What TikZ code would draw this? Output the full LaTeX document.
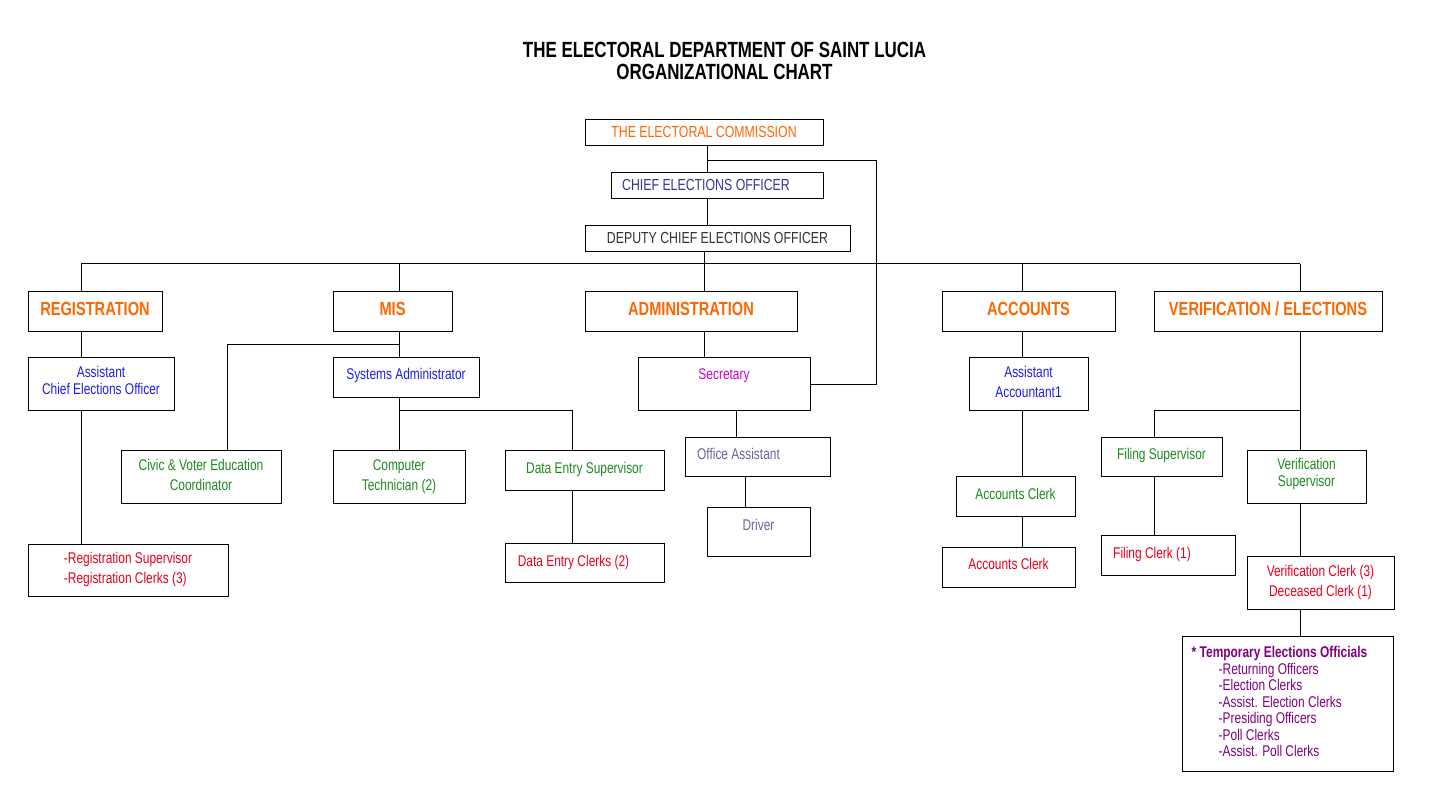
\documentclass[tikz,border=0pt]{standalone}
\usepackage{fontspec}
\setmainfont{Liberation Sans}[FakeStretch=0.77]
\usetikzlibrary{positioning}

\definecolor{orgorange}{HTML}{FF6600}
\definecolor{ceoblue}{HTML}{333399}
\definecolor{deputygray}{HTML}{333333}
\definecolor{posblue}{HTML}{1F1FE0}
\definecolor{posgreen}{HTML}{1E8A1E}
\definecolor{posred}{HTML}{E8001E}
\definecolor{secmagenta}{HTML}{CC00CC}
\definecolor{staffslate}{HTML}{666699}
\definecolor{temppurple}{HTML}{800080}

\newcommand\titlefont{\fontsize{22}{20.7}\selectfont\bfseries}
\newcommand\topfont{\fontsize{16}{20}\selectfont}
\newcommand\deptfont{\fontsize{19}{22}\selectfont\bfseries}
\newcommand\boxfont{\fontsize{15.5}{20}\selectfont}
\newcommand\tightfont{\fontsize{15.5}{17}\selectfont}
\newcommand\listfont{\fontsize{15.5}{16.5}\selectfont}

\begin{document}
\begin{tikzpicture}[x=1pt, y=-1pt,
	box/.style={draw=black, line width=1pt, inner sep=0pt, anchor=north, font=\boxfont},
	dept/.style={box, text height=24pt, text depth=16pt, font=\deptfont, text=orgorange},
	conn/.style={-, line width=1pt}]
	\fill[white] (0,0) rectangle (1434,791);
	\useasboundingbox (0,0) rectangle (1434,791);

	% title
	\node[font=\titlefont, inner sep=0pt, anchor=base] (title) at (724.5,58) {\begin{tabular}[t]{@{}c@{}}THE ELECTORAL DEPARTMENT OF SAINT LUCIA\\ORGANIZATIONAL CHART\end{tabular}};

	% top of the chart
	\node[box, font=\topfont, minimum width=238pt, text height=18pt, text depth=8pt, text=orgorange]  (comm) at (704,119)   {THE ELECTORAL COMMISSION};
	\node[box, font=\topfont, minimum width=212pt, text height=18pt, text depth=8pt, text=ceoblue]    (ceo)  at (717,172)   {CHIEF ELECTIONS OFFICER\hspace*{22pt}};
	\node[box, font=\topfont, minimum width=265pt, text height=18pt, text depth=8pt, text=deputygray] (dceo) at (717.5,225) {DEPUTY CHIEF ELECTIONS OFFICER};

	% departments
	\node[dept, minimum width=134pt] (reg) at (95,291)     {REGISTRATION};
	\node[dept, minimum width=119pt] (mis) at (392.5,291)  {MIS};
	\node[dept, minimum width=212pt] (adm) at (691,291)    {ADMINISTRATION};
	\node[dept, minimum width=173pt] (acc) at (1028.5,291) {ACCOUNTS};
	\node[dept, minimum width=228pt] (ver) at (1268,291)   {VERIFICATION / ELECTIONS};

	% posts
	\node[box, font=\tightfont, minimum width=146pt, text height=20pt, text depth=33pt, text=posblue] (ace) at (101,357) {\begin{tabular}[t]{@{}c@{}}Assistant\\Chief Elections Officer\end{tabular}};
	\node[box, minimum width=146pt, text height=22pt, text depth=18pt, text=posblue]      (sysadm)  at (406,357)    {Systems Administrator};
	\node[box, minimum width=172pt, text height=22pt, text depth=31pt, text=secmagenta]   (sec)     at (724,357)    {Secretary};
	\node[box, minimum width=119pt, text height=20pt, text depth=33pt, text=posblue]      (asstacc) at (1028.5,357) {\begin{tabular}[t]{@{}c@{}}Assistant\\Accountant1\end{tabular}};

	\node[box, minimum width=160pt, text height=20pt, text depth=33pt, text=posgreen]     (civic)    at (201,450)    {\begin{tabular}[t]{@{}c@{}}Civic \& Voter Education\\Coordinator\end{tabular}};
	\node[box, minimum width=132pt, text height=20pt, text depth=33pt, text=posgreen]     (comptech) at (399,450)    {\begin{tabular}[t]{@{}c@{}}Computer\\Technician (2)\end{tabular}};
	\node[box, minimum width=159pt, text height=23pt, text depth=17pt, text=posgreen]     (des)      at (584.5,450)  {Data Entry Supervisor};
	\node[box, minimum width=145pt, text height=22pt, text depth=17pt, text=staffslate]   (oa)       at (757.5,437)  {Office Assistant\hspace*{38pt}};
	\node[box, minimum width=119pt, text height=23pt, text depth=17pt, text=posgreen]     (acl1)     at (1015.5,476) {Accounts Clerk};
	\node[box, minimum width=121pt, text height=22pt, text depth=17pt, text=posgreen]     (fs)       at (1161.5,437) {Filing Supervisor};
	\node[box, font=\tightfont, minimum width=119pt, text height=19pt, text depth=34pt, text=posgreen] (vs) at (1306.5,450) {\begin{tabular}[t]{@{}c@{}}Verification\\Supervisor\end{tabular}};

	\node[box, minimum width=200pt, text height=19pt, text depth=33pt, text=posred]       (regsup) at (128,544)    {\begin{tabular}[t]{@{}l@{}}-Registration Supervisor\\-Registration Clerks (3)\end{tabular}};
	\node[box, minimum width=159pt, text height=23pt, text depth=16pt, text=posred]       (dec)    at (584.5,543)  {Data Entry Clerks (2)\hspace*{22pt}};
	\node[box, minimum width=103pt, text height=23pt, text depth=26pt, text=staffslate]   (drv)    at (758.5,507)  {Driver};
	\node[box, minimum width=133pt, text height=22pt, text depth=18pt, text=posred]       (acl2)   at (1008.5,547) {Accounts Clerk};
	\node[box, minimum width=134pt, text height=23pt, text depth=17pt, text=posred]       (fc)     at (1168,535)   {Filing Clerk (1)\hspace*{32pt}};
	\node[box, minimum width=147pt, text height=20pt, text depth=33pt, text=posred]       (vc)     at (1320.5,556) {\begin{tabular}[t]{@{}c@{}}Verification Clerk (3)\\Deceased Clerk (1)\end{tabular}};

	\node[box, font=\listfont, minimum width=211pt, text height=21pt, text depth=114pt, text=temppurple] (temp) at (1287.5,636) {\begin{tabular}[t]{@{}l@{}}\textbf{* Temporary Elections Officials}\hspace*{16pt}\\
		\hspace*{27pt}-Returning Officers\\
		\hspace*{27pt}-Election Clerks\\
		\hspace*{27pt}-Assist. Election Clerks\\
		\hspace*{27pt}-Presiding Officers\\
		\hspace*{27pt}-Poll Clerks\\
		\hspace*{27pt}-Assist. Poll Clerks\end{tabular}};

	% where the lines run
	\coordinate (top)    at (707,161);
	\coordinate (link)   at (876,161);
	\coordinate (bus)    at (704,264);
	\coordinate (regcol) at (81,264);
	\coordinate (miscol) at (399,264);
	\coordinate (acccol) at (1022,264);
	\coordinate (vercol) at (1300,264);
	\coordinate (civcol) at (227,344);
	\coordinate (descol) at (572,410);
	\coordinate (seccol) at (736,410);
	\coordinate (oacol)  at (745,476);
	\coordinate (fscol)  at (1154,410);

	\draw[conn] (top |- comm.south) -- (top |- ceo.north);
	\draw[conn] (top |- ceo.south) -- (top |- dceo.north);
	\draw[conn] (top) -- (link) |- (sec.east);
	\draw[conn] (bus |- dceo.south) -- (bus);
	\draw[conn] (regcol) -- (vercol);
	\foreach \col/\dep in {regcol/reg, miscol/mis, bus/adm, acccol/acc, vercol/ver}
		\draw[conn] (\col) -- (\col |- \dep.north);

	\draw[conn] (regcol |- reg.south) -- (regcol |- ace.north);
	\draw[conn] (regcol |- ace.south) -- (regcol |- regsup.north);

	\draw[conn] (miscol |- mis.south) -- (miscol |- sysadm.north);
	\draw[conn] (miscol |- civcol) -- (civcol) -- (civcol |- civic.north);
	\draw[conn] (miscol |- sysadm.south) -- (miscol |- comptech.north);
	\draw[conn] (miscol |- descol) -- (descol) -- (descol |- des.north);
	\draw[conn] (descol |- des.south) -- (descol |- dec.north);

	\draw[conn] (bus |- adm.south) -- (bus |- sec.north);
	\draw[conn] (seccol |- sec.south) -- (seccol |- oa.north);
	\draw[conn] (oacol |- oa.south) -- (oacol |- drv.north);

	\draw[conn] (acccol |- acc.south) -- (acccol |- asstacc.north);
	\draw[conn] (acccol |- asstacc.south) -- (acccol |- acl1.north);
	\draw[conn] (acccol |- acl1.south) -- (acccol |- acl2.north);

	\draw[conn] (vercol |- ver.south) -- (vercol |- vs.north);
	\draw[conn] (vercol |- fscol) -- (fscol) -- (fscol |- fs.north);
	\draw[conn] (fscol |- fs.south) -- (fscol |- fc.north);
	\draw[conn] (vercol |- vs.south) -- (vercol |- vc.north);
	\draw[conn] (vercol |- vc.south) -- (vercol |- temp.north);
\end{tikzpicture}
\end{document}
